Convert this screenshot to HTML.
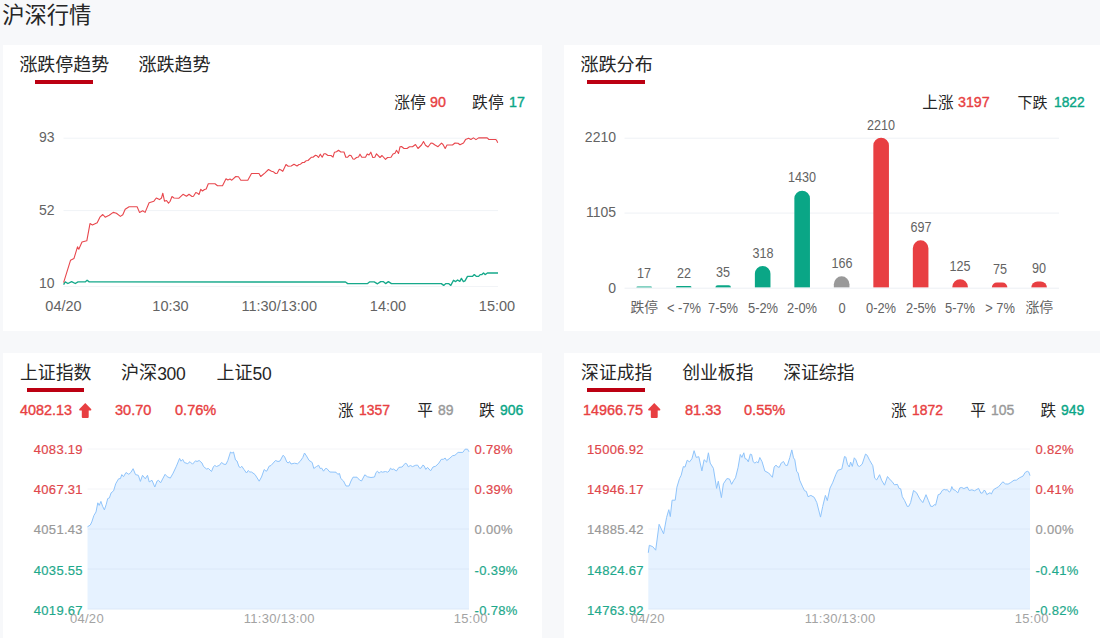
<!DOCTYPE html>
<html lang="zh-CN"><head><meta charset="utf-8"><title>沪深行情</title>
<style>
html,body{margin:0;padding:0}
body{width:1100px;height:638px;overflow:hidden;background:#f7f8fa;position:relative;font-family:"Liberation Sans",sans-serif;color:#333}
h1{margin:0;font-size:22px;font-weight:normal}
.card{position:absolute;width:539px;height:286px;background:#fff;overflow:hidden}
.zh{position:absolute;display:block;white-space:nowrap;overflow:visible;font-family:"Liberation Sans","Noto Sans CJK SC",sans-serif;font-weight:normal;color:#262626}
.t{position:absolute;line-height:20px;height:20px;white-space:nowrap}
.ul{position:absolute;width:57.5px;height:4px;background:#bc0012}
.ch{position:absolute;left:0;top:0}
.a{position:absolute}
.tab{position:static}
</style></head>
<body>
<h1><span class="zh" style="left:2.2px;top:5px;width:87.5px;height:21.5px;line-height:21.5px;font-size:22.3px">沪深行情</span></h1>
<section class="card" style="left:3px;top:45px"><div class="tab on"><span class="zh" style="left:16.4px;top:12.2px;width:88.5px;height:17.3px;line-height:17.3px;font-size:17.95px">涨跌停趋势</span><i class="ul" style="left:32px;top:35px"></i></div>
<div class="tab"><span class="zh" style="left:135.4px;top:12.2px;width:71px;height:17.3px;line-height:17.3px;font-size:18.05px">涨跌趋势</span></div>
<span class="zh" style="left:391.2px;top:51.3px;width:30.4px;height:13.3px;line-height:13.3px;font-size:15.8px">涨停</span>
<span class="t" style="top:47.1px;font-size:15px;color:#e83f42;-webkit-text-stroke:0.4px;transform:scaleX(0.95);transform-origin:0 50%;left:427.2px;">90</span>
<span class="zh" style="left:469.1px;top:51.3px;width:30.3px;height:13.3px;line-height:13.3px;font-size:15.8px">跌停</span>
<span class="t" style="top:47.1px;font-size:15px;color:#0aa686;-webkit-text-stroke:0.4px;transform:scaleX(0.95);transform-origin:0 50%;left:505.6px;">17</span>
<svg class="ch" width="539" height="286" viewBox="3 45 539 286"><line x1="63.5" x2="498" y1="138.2" y2="138.2" stroke="#f0f3f7" stroke-width="1"/><line x1="63.5" x2="498" y1="210.6" y2="210.6" stroke="#f0f3f7" stroke-width="1"/><line x1="63.5" x2="498" y1="286.5" y2="286.5" stroke="#f2f4f7" stroke-width="1"/><path d="M63.6 284.6 L65.2 281.9 L67.9 283.5 L71.6 281.6 L75.3 283.5 L78.0 281.9 L85.2 281.9 L87.1 280.3 L89.2 281.9 L345.5 282.0 L347.7 283.6 L367.6 283.6 L369.8 281.8 L374.2 281.8 L377.5 283.8 L380.7 281.6 L383.2 281.6 L385.6 283.6 L388.4 281.6 L391.4 283.6 L441.3 283.6 L443.7 285.4 L445.9 283.6 L448.6 283.6 L450.8 285.4 L453.5 280.3 L455.7 281.6 L457.6 280.0 L459.8 281.3 L461.4 278.4 L463.4 281.6 L465.0 280.8 L467.5 276.4 L472.4 276.4 L474.3 274.6 L476.5 276.4 L478.6 276.4 L480.2 274.6 L481.9 274.6 L483.5 273.0 L485.1 274.6 L487.4 273.0 L498.0 273.0" fill="none" stroke="#16a98b" stroke-width="1.35" stroke-linejoin="round"/><path d="M63.6 282.7 L70.5 260.3 L74.0 258.4 L77.5 246.8 L78.8 249.2 L82.0 242.0 L86.8 240.8 L90.0 223.6 L92.4 224.9 L97.2 222.8 L99.9 217.2 L102.8 214.5 L105.2 217.2 L109.2 215.3 L113.2 212.4 L116.4 213.2 L120.4 216.4 L122.8 214.8 L125.2 209.2 L129.1 206.8 L137.1 206.8 L139.5 212.4 L142.7 210.8 L145.1 212.4 L149.1 202.8 L153.9 201.2 L156.3 198.0 L159.5 199.6 L161.5 198.0 L162.8 193.2 L164.5 201.2 L166.5 200.5 L168.5 203.2 L170.0 201.5 L172.0 196.5 L174.0 198.0 L179.0 198.2 L183.0 194.3 L186.5 196.2 L189.0 194.3 L192.0 196.5 L193.5 196.2 L195.8 192.5 L197.5 193.2 L199.0 194.5 L200.8 189.3 L202.5 191.0 L204.5 189.5 L206.2 189.0 L208.3 183.8 L215.0 183.8 L217.5 185.8 L222.5 185.8 L226.0 178.8 L227.8 180.0 L230.0 179.0 L231.8 180.2 L235.8 176.5 L238.5 176.8 L240.8 180.3 L247.8 180.3 L251.5 173.5 L259.0 173.5 L260.7 176.5 L265.0 172.8 L268.5 169.5 L271.5 171.2 L273.5 171.8 L275.5 173.5 L277.2 173.2 L279.3 169.3 L281.0 170.0 L282.8 171.3 L286.0 164.5 L288.2 166.2 L291.2 166.0 L294.0 164.2 L297.0 166.0 L299.0 164.5 L300.5 164.2 L302.5 162.5 L304.2 162.5 L306.0 160.8 L308.0 160.5 L311.5 157.2 L313.0 157.2 L315.5 155.2 L317.0 155.8 L318.5 157.5 L320.3 154.2 L322.2 157.2 L324.0 153.8 L325.5 153.8 L328.0 155.5 L331.0 155.5 L333.0 157.2 L334.5 152.2 L336.5 151.8 L338.5 150.2 L340.8 152.0 L344.0 152.0 L345.8 157.3 L347.5 157.3 L349.5 155.2 L351.0 155.5 L353.0 159.0 L354.5 159.2 L356.5 157.5 L358.5 157.0 L360.0 154.2 L361.8 157.3 L365.5 157.3 L367.2 154.0 L369.0 155.0 L370.8 152.2 L372.8 157.5 L374.8 157.2 L376.5 153.8 L380.0 157.5 L382.0 155.5 L385.5 159.3 L387.5 157.5 L391.0 157.3 L393.0 154.0 L395.0 153.2 L396.5 150.3 L398.5 153.5 L400.0 146.8 L401.5 146.5 L404.0 148.5 L407.0 148.5 L409.5 146.7 L412.5 146.7 L415.5 144.5 L418.0 148.5 L421.5 145.0 L423.5 141.5 L425.5 145.2 L428.0 147.0 L431.0 143.0 L432.5 143.2 L435.0 145.0 L438.0 146.7 L441.5 143.2 L443.0 144.5 L445.2 148.5 L447.0 145.0 L452.5 145.0 L455.0 143.0 L458.0 143.2 L460.0 144.8 L463.5 143.0 L465.5 139.6 L468.6 138.2 L470.9 139.5 L473.4 137.9 L476.0 139.6 L478.6 137.9 L487.2 137.9 L488.9 139.5 L495.9 139.5 L496.9 140.9 L497.7 142.8" fill="none" stroke="#e8474d" stroke-width="1.1" stroke-linejoin="round"/></svg>
<span class="t" style="top:81.7px;font-size:14px;color:#636363;left:-148.4px;width:200px;text-align:right;">93</span>
<span class="t" style="top:154.5px;font-size:14px;color:#636363;left:-148.4px;width:200px;text-align:right;">52</span>
<span class="t" style="top:228.4px;font-size:14px;color:#636363;left:-148.4px;width:200px;text-align:right;">10</span>
<span class="t" style="top:250.5px;font-size:14.5px;color:#636363;left:-39.5px;width:200px;text-align:center;">04/20</span>
<span class="t" style="top:250.5px;font-size:14.5px;color:#636363;left:67.5px;width:200px;text-align:center;">10:30</span>
<span class="t" style="top:250.5px;font-size:14.5px;color:#636363;left:176.2px;width:200px;text-align:center;">11:30/13:00</span>
<span class="t" style="top:250.5px;font-size:14.5px;color:#636363;left:285px;width:200px;text-align:center;">14:00</span>
<span class="t" style="top:250.5px;font-size:14.5px;color:#636363;left:394px;width:200px;text-align:center;">15:00</span></section>
<section class="card" style="left:564px;top:45px"><div class="tab on"><span class="zh" style="left:16.4px;top:12.2px;width:71px;height:17.3px;line-height:17.3px;font-size:18.1px">涨跌分布</span><i class="ul" style="left:23.299999999999955px;top:35px"></i></div>
<span class="zh" style="left:358.3px;top:51.7px;width:30px;height:12.7px;line-height:12.7px;font-size:15.6px">上涨</span>
<span class="t" style="top:47.1px;font-size:15px;color:#e83f42;-webkit-text-stroke:0.4px;transform:scaleX(0.95);transform-origin:0 50%;left:394.2px;">3197</span>
<span class="zh" style="left:453.4px;top:51.7px;width:28.7px;height:12.7px;line-height:12.7px;font-size:15px">下跌</span>
<span class="t" style="top:47.1px;font-size:15px;color:#0aa686;-webkit-text-stroke:0.4px;transform:scaleX(0.92);transform-origin:0 50%;left:489.8px;">1822</span>
<svg class="ch" width="539" height="286" viewBox="564 45 539 286"><line x1="624.5" x2="1059" y1="138.2" y2="138.2" stroke="#eef1f5" stroke-width="1"/><line x1="624.5" x2="1059" y1="213.1" y2="213.1" stroke="#eef1f5" stroke-width="1"/><path d="M636.40 287.6 L636.40 287.60 A1.15 1.15 0 0 1 637.55 286.45 L650.85 286.45 A1.15 1.15 0 0 1 652.00 287.60 L652.00 287.6 Z" fill="#0aa686"/><path d="M675.89 287.6 L675.89 287.60 A1.49 1.49 0 0 1 677.38 286.11 L690.00 286.11 A1.49 1.49 0 0 1 691.49 287.60 L691.49 287.6 Z" fill="#0aa686"/><path d="M715.38 287.6 L715.38 287.60 A2.37 2.37 0 0 1 717.75 285.23 L728.61 285.23 A2.37 2.37 0 0 1 730.98 287.60 L730.98 287.6 Z" fill="#0aa686"/><path d="M754.87 287.6 L754.87 273.85 A7.80 7.80 0 0 1 762.67 266.05 L762.67 266.05 A7.80 7.80 0 0 1 770.47 273.85 L770.47 287.6 Z" fill="#0aa686"/><path d="M794.36 287.6 L794.36 198.47 A7.80 7.80 0 0 1 802.16 190.67 L802.16 190.67 A7.80 7.80 0 0 1 809.96 198.47 L809.96 287.6 Z" fill="#0aa686"/><path d="M833.85 287.6 L833.85 284.15 A7.80 7.80 0 0 1 841.65 276.35 L841.65 276.35 A7.80 7.80 0 0 1 849.45 284.15 L849.45 287.6 Z" fill="#999"/><path d="M873.34 287.6 L873.34 145.60 A7.80 7.80 0 0 1 881.14 137.80 L881.14 137.80 A7.80 7.80 0 0 1 888.94 145.60 L888.94 287.6 Z" fill="#e83f42"/><path d="M912.83 287.6 L912.83 248.16 A7.80 7.80 0 0 1 920.63 240.36 L920.63 240.36 A7.80 7.80 0 0 1 928.43 248.16 L928.43 287.6 Z" fill="#e83f42"/><path d="M952.32 287.6 L952.32 286.93 A7.80 7.80 0 0 1 960.12 279.13 L960.12 279.13 A7.80 7.80 0 0 1 967.92 286.93 L967.92 287.6 Z" fill="#e83f42"/><path d="M991.81 287.6 L991.81 287.60 A5.08 5.08 0 0 1 996.89 282.52 L1002.33 282.52 A5.08 5.08 0 0 1 1007.41 287.60 L1007.41 287.6 Z" fill="#e83f42"/><path d="M1031.30 287.6 L1031.30 287.60 A6.10 6.10 0 0 1 1037.40 281.50 L1040.80 281.50 A6.10 6.10 0 0 1 1046.90 287.60 L1046.90 287.6 Z" fill="#e83f42"/><line x1="624.5" x2="1059" y1="288.2" y2="288.2" stroke="#eceff4" stroke-width="1"/></svg>
<span class="t" style="top:82.2px;font-size:14px;color:#636363;left:-148px;width:200px;text-align:right;">2210</span>
<span class="t" style="top:157.2px;font-size:14px;color:#636363;left:-148px;width:200px;text-align:right;">1105</span>
<span class="t" style="top:232.5px;font-size:14px;color:#636363;left:-148px;width:200px;text-align:right;">0</span>
<span class="t" style="top:218.15px;font-size:14px;color:#636363;left:-19.8px;width:200px;text-align:center;transform:scaleX(.9);">17</span>
<span class="t" style="top:217.81px;font-size:14px;color:#636363;left:19.69px;width:200px;text-align:center;transform:scaleX(.9);">22</span>
<span class="t" style="top:216.93px;font-size:14px;color:#636363;left:59.18px;width:200px;text-align:center;transform:scaleX(.9);">35</span>
<span class="t" style="top:197.75px;font-size:14px;color:#636363;left:98.67px;width:200px;text-align:center;transform:scaleX(.9);">318</span>
<span class="t" style="top:122.37px;font-size:14px;color:#636363;left:138.16px;width:200px;text-align:center;transform:scaleX(.9);">1430</span>
<span class="t" style="top:208.05px;font-size:14px;color:#636363;left:177.65px;width:200px;text-align:center;transform:scaleX(.9);">166</span>
<span class="t" style="top:69.5px;font-size:14px;color:#636363;left:217.14px;width:200px;text-align:center;transform:scaleX(.9);">2210</span>
<span class="t" style="top:172.06px;font-size:14px;color:#636363;left:256.63px;width:200px;text-align:center;transform:scaleX(.9);">697</span>
<span class="t" style="top:210.83px;font-size:14px;color:#636363;left:296.12px;width:200px;text-align:center;transform:scaleX(.9);">125</span>
<span class="t" style="top:214.22px;font-size:14px;color:#636363;left:335.61px;width:200px;text-align:center;transform:scaleX(.9);">75</span>
<span class="t" style="top:213.2px;font-size:14px;color:#636363;left:375.1px;width:200px;text-align:center;transform:scaleX(.9);">90</span>
<span class="t" style="top:252.8px;font-size:14px;color:#636363;left:19.69px;width:200px;text-align:center;transform:scaleX(.92);">&lt; -7%</span>
<span class="t" style="top:252.8px;font-size:14px;color:#636363;left:59.18px;width:200px;text-align:center;transform:scaleX(.92);">7-5%</span>
<span class="t" style="top:252.8px;font-size:14px;color:#636363;left:98.67px;width:200px;text-align:center;transform:scaleX(.92);">5-2%</span>
<span class="t" style="top:252.8px;font-size:14px;color:#636363;left:138.16px;width:200px;text-align:center;transform:scaleX(.92);">2-0%</span>
<span class="t" style="top:252.8px;font-size:14px;color:#636363;left:177.65px;width:200px;text-align:center;transform:scaleX(.92);">0</span>
<span class="t" style="top:252.8px;font-size:14px;color:#636363;left:217.14px;width:200px;text-align:center;transform:scaleX(.92);">0-2%</span>
<span class="t" style="top:252.8px;font-size:14px;color:#636363;left:256.63px;width:200px;text-align:center;transform:scaleX(.92);">2-5%</span>
<span class="t" style="top:252.8px;font-size:14px;color:#636363;left:296.12px;width:200px;text-align:center;transform:scaleX(.92);">5-7%</span>
<span class="t" style="top:252.8px;font-size:14px;color:#636363;left:335.61px;width:200px;text-align:center;transform:scaleX(.92);">&gt; 7%</span>
<span class="zh" style="left:66.5px;top:256.8px;width:26.4px;height:11.2px;line-height:11.2px;font-size:13.8px;color:#636363">跌停</span>
<span class="zh" style="left:461.5px;top:256.8px;width:26.6px;height:11.2px;line-height:11.2px;font-size:13.85px;color:#636363">涨停</span></section>
<section class="card" style="left:3px;top:353px"><div class="tab on"><span class="zh" style="left:17px;top:12.3px;width:70px;height:17.3px;line-height:17.3px;font-size:17.85px">上证指数</span><i class="ul" style="left:23.5px;top:35px"></i></div>
<div class="tab"><span class="zh" style="left:117.9px;top:12.3px;width:34.8px;height:17.3px;line-height:17.3px;font-size:18.1px">沪深</span><span class="t" style="top:11px;font-size:17.5px;color:#262626;letter-spacing:-0.3px;left:154.2px;">300</span></div>
<div class="tab"><span class="zh" style="left:213.5px;top:12.3px;width:34.8px;height:17.3px;line-height:17.3px;font-size:18.1px">上证</span><span class="t" style="top:11px;font-size:17.5px;color:#262626;letter-spacing:-0.3px;left:249.6px;">50</span></div>
<span class="t" style="top:47.2px;font-size:15px;color:#e83f42;-webkit-text-stroke:0.4px;transform:scaleX(0.96);transform-origin:0 50%;left:17.1px;">4082.13</span>
<svg class="a" style="left:76.2px;top:49.9px" width="12.5" height="15" viewBox="0 0 12.5 15"><path fill="#e83f42" d="M6.25 0.1 L12.1 6 Q12.7 6.9 11.7 7.5 L9.7 7.5 L9.7 14 Q9.7 15 8.7 15 L3.8 15 Q2.8 15 2.8 14 L2.8 7.5 L0.8 7.5 Q-0.2 6.9 0.4 6 Z"/></svg>
<span class="t" style="top:47.2px;font-size:15px;color:#e83f42;-webkit-text-stroke:0.4px;transform:scaleX(0.97);transform-origin:0 50%;left:112.2px;">30.70</span>
<span class="t" style="top:47.2px;font-size:15px;color:#e83f42;-webkit-text-stroke:0.4px;transform:scaleX(0.97);transform-origin:0 50%;left:171.6px;">0.76%</span>
<span class="zh" style="left:334.9px;top:51.9px;width:14.6px;height:12.2px;line-height:12.2px;font-size:15.6px">涨</span>
<span class="t" style="top:47.2px;font-size:15px;color:#e83f42;-webkit-text-stroke:0.4px;transform:scaleX(0.93);transform-origin:0 50%;left:356.4px;">1357</span>
<span class="zh" style="left:414.2px;top:51.9px;width:14px;height:12.2px;line-height:12.2px;font-size:15.6px">平</span>
<span class="t" style="top:47.2px;font-size:15px;color:#999;-webkit-text-stroke:0.4px;transform:scaleX(0.93);transform-origin:0 50%;left:434.6px;">89</span>
<span class="zh" style="left:476.1px;top:51.9px;width:14.8px;height:12.2px;line-height:12.2px;font-size:15.8px">跌</span>
<span class="t" style="top:47.2px;font-size:15px;color:#0aa686;-webkit-text-stroke:0.4px;transform:scaleX(0.93);transform-origin:0 50%;left:496.6px;">906</span>
<svg class="ch" width="539" height="286" viewBox="3 353 539 286"><line x1="87.5" x2="469" y1="449" y2="449" stroke="#f4f5f8" stroke-width="1"/><line x1="87.5" x2="469" y1="489" y2="489" stroke="#f4f5f8" stroke-width="1"/><line x1="87.5" x2="469" y1="529" y2="529" stroke="#f4f5f8" stroke-width="1"/><line x1="87.5" x2="469" y1="569" y2="569" stroke="#f4f5f8" stroke-width="1"/><line x1="87.5" x2="469" y1="609" y2="609" stroke="#f4f5f8" stroke-width="1"/><path d="M87.5 526.8 L90.3 525.0 L91.8 521.9 L93.9 515.5 L96.0 512.0 L97.8 502.8 L99.2 505.4 L100.9 501.4 L102.6 506.3 L104.4 509.9 L106.3 504.2 L107.7 498.6 L109.4 497.9 L111.1 492.9 L113.6 490.8 L115.7 483.8 L118.6 478.8 L120.4 478.6 L121.8 474.6 L123.5 476.7 L126.0 472.5 L128.8 474.3 L130.8 472.5 L133.1 468.7 L135.5 474.6 L138.3 475.3 L140.4 481.4 L142.5 475.3 L145.3 478.8 L147.5 475.3 L149.2 481.9 L152.0 480.3 L154.8 487.0 L157.1 481.0 L158.5 480.3 L160.6 482.8 L165.1 474.3 L167.2 476.7 L170.3 478.1 L173.1 473.2 L176.4 466.2 L179.6 458.4 L181.0 461.2 L182.7 459.4 L184.4 462.6 L187.7 463.6 L190.0 461.7 L192.5 464.2 L195.5 460.8 L197.0 461.5 L199.2 460.5 L202.0 463.0 L203.5 466.5 L206.5 469.0 L208.5 468.5 L211.5 471.5 L213.5 466.5 L214.8 465.5 L216.5 466.5 L219.5 465.3 L221.5 462.5 L224.0 464.3 L226.0 464.3 L227.8 460.5 L230.5 452.0 L232.0 453.2 L233.5 452.0 L235.5 460.0 L237.0 461.0 L239.0 466.8 L240.5 467.5 L241.8 466.3 L244.0 469.5 L246.5 473.0 L248.2 470.5 L249.8 472.0 L251.5 472.0 L255.0 474.5 L259.2 481.2 L261.5 477.0 L264.2 469.5 L266.0 471.2 L267.0 470.8 L269.0 466.3 L271.0 465.5 L275.5 460.5 L278.0 461.5 L280.0 461.0 L283.0 455.3 L284.5 456.5 L286.8 462.0 L288.2 463.0 L289.5 461.5 L291.0 464.0 L294.5 463.2 L297.5 463.8 L300.0 461.5 L302.8 457.5 L304.5 453.0 L306.5 456.0 L309.0 460.3 L312.2 462.5 L313.8 468.5 L316.5 466.5 L318.7 465.3 L320.2 468.5 L321.8 468.2 L323.5 471.2 L325.5 468.5 L326.8 468.5 L329.8 472.0 L336.0 472.2 L337.8 474.3 L339.5 473.5 L340.8 478.5 L343.5 481.0 L346.0 486.0 L349.0 486.0 L351.0 481.0 L353.0 477.2 L357.0 477.2 L359.5 480.0 L361.5 481.0 L364.8 474.8 L367.5 476.8 L371.0 477.5 L374.5 477.0 L376.0 472.5 L377.5 471.2 L379.2 473.2 L380.8 471.5 L382.5 472.2 L385.5 471.5 L387.5 472.2 L389.0 471.2 L390.5 468.2 L392.0 469.5 L393.5 469.0 L396.4 471.0 L398.9 467.4 L402.1 467.0 L405.2 463.3 L406.6 463.7 L408.3 466.8 L410.3 465.5 L412.6 466.6 L415.8 465.2 L417.7 465.2 L419.7 468.4 L420.9 468.2 L422.8 465.2 L424.0 465.7 L425.8 469.4 L427.5 467.4 L430.6 470.8 L433.0 467.0 L435.7 466.2 L438.9 463.1 L441.2 459.4 L443.6 459.2 L445.1 458.0 L446.7 460.5 L449.1 458.8 L452.6 455.7 L454.9 455.3 L458.1 452.4 L462.8 452.4 L465.1 449.2 L467.5 449.2 L469.0 451.8 L469 609.4 L87.5 609.4 Z" fill="#409eff" fill-opacity="0.13"/><path d="M87.5 526.8 L90.3 525.0 L91.8 521.9 L93.9 515.5 L96.0 512.0 L97.8 502.8 L99.2 505.4 L100.9 501.4 L102.6 506.3 L104.4 509.9 L106.3 504.2 L107.7 498.6 L109.4 497.9 L111.1 492.9 L113.6 490.8 L115.7 483.8 L118.6 478.8 L120.4 478.6 L121.8 474.6 L123.5 476.7 L126.0 472.5 L128.8 474.3 L130.8 472.5 L133.1 468.7 L135.5 474.6 L138.3 475.3 L140.4 481.4 L142.5 475.3 L145.3 478.8 L147.5 475.3 L149.2 481.9 L152.0 480.3 L154.8 487.0 L157.1 481.0 L158.5 480.3 L160.6 482.8 L165.1 474.3 L167.2 476.7 L170.3 478.1 L173.1 473.2 L176.4 466.2 L179.6 458.4 L181.0 461.2 L182.7 459.4 L184.4 462.6 L187.7 463.6 L190.0 461.7 L192.5 464.2 L195.5 460.8 L197.0 461.5 L199.2 460.5 L202.0 463.0 L203.5 466.5 L206.5 469.0 L208.5 468.5 L211.5 471.5 L213.5 466.5 L214.8 465.5 L216.5 466.5 L219.5 465.3 L221.5 462.5 L224.0 464.3 L226.0 464.3 L227.8 460.5 L230.5 452.0 L232.0 453.2 L233.5 452.0 L235.5 460.0 L237.0 461.0 L239.0 466.8 L240.5 467.5 L241.8 466.3 L244.0 469.5 L246.5 473.0 L248.2 470.5 L249.8 472.0 L251.5 472.0 L255.0 474.5 L259.2 481.2 L261.5 477.0 L264.2 469.5 L266.0 471.2 L267.0 470.8 L269.0 466.3 L271.0 465.5 L275.5 460.5 L278.0 461.5 L280.0 461.0 L283.0 455.3 L284.5 456.5 L286.8 462.0 L288.2 463.0 L289.5 461.5 L291.0 464.0 L294.5 463.2 L297.5 463.8 L300.0 461.5 L302.8 457.5 L304.5 453.0 L306.5 456.0 L309.0 460.3 L312.2 462.5 L313.8 468.5 L316.5 466.5 L318.7 465.3 L320.2 468.5 L321.8 468.2 L323.5 471.2 L325.5 468.5 L326.8 468.5 L329.8 472.0 L336.0 472.2 L337.8 474.3 L339.5 473.5 L340.8 478.5 L343.5 481.0 L346.0 486.0 L349.0 486.0 L351.0 481.0 L353.0 477.2 L357.0 477.2 L359.5 480.0 L361.5 481.0 L364.8 474.8 L367.5 476.8 L371.0 477.5 L374.5 477.0 L376.0 472.5 L377.5 471.2 L379.2 473.2 L380.8 471.5 L382.5 472.2 L385.5 471.5 L387.5 472.2 L389.0 471.2 L390.5 468.2 L392.0 469.5 L393.5 469.0 L396.4 471.0 L398.9 467.4 L402.1 467.0 L405.2 463.3 L406.6 463.7 L408.3 466.8 L410.3 465.5 L412.6 466.6 L415.8 465.2 L417.7 465.2 L419.7 468.4 L420.9 468.2 L422.8 465.2 L424.0 465.7 L425.8 469.4 L427.5 467.4 L430.6 470.8 L433.0 467.0 L435.7 466.2 L438.9 463.1 L441.2 459.4 L443.6 459.2 L445.1 458.0 L446.7 460.5 L449.1 458.8 L452.6 455.7 L454.9 455.3 L458.1 452.4 L462.8 452.4 L465.1 449.2 L467.5 449.2 L469.0 451.8" fill="none" stroke="#8fc4fb" stroke-width="1" stroke-linejoin="round"/></svg>
<span class="t" style="top:87px;font-size:13px;color:#e0474c;letter-spacing:0.3px;left:-120.1px;width:200px;text-align:right;-webkit-text-stroke:0.2px;">4083.19</span>
<span class="t" style="top:127.2px;font-size:13px;color:#e0474c;letter-spacing:0.3px;left:-120.1px;width:200px;text-align:right;-webkit-text-stroke:0.2px;">4067.31</span>
<span class="t" style="top:167.4px;font-size:13px;color:#999;letter-spacing:0.3px;left:-120.1px;width:200px;text-align:right;-webkit-text-stroke:0.2px;">4051.43</span>
<span class="t" style="top:207.6px;font-size:13px;color:#1fa98c;letter-spacing:0.3px;left:-120.1px;width:200px;text-align:right;-webkit-text-stroke:0.2px;">4035.55</span>
<span class="t" style="top:247.6px;font-size:13px;color:#1fa98c;letter-spacing:0.3px;left:-120.1px;width:200px;text-align:right;-webkit-text-stroke:0.2px;">4019.67</span>
<span class="t" style="top:87px;font-size:13px;color:#e0474c;letter-spacing:0.3px;left:471.6px;-webkit-text-stroke:0.2px;">0.78%</span>
<span class="t" style="top:127.2px;font-size:13px;color:#e0474c;letter-spacing:0.3px;left:471.6px;-webkit-text-stroke:0.2px;">0.39%</span>
<span class="t" style="top:167.4px;font-size:13px;color:#999;letter-spacing:0.3px;left:471.6px;-webkit-text-stroke:0.2px;">0.00%</span>
<span class="t" style="top:207.6px;font-size:13px;color:#1fa98c;letter-spacing:0.3px;left:471.6px;-webkit-text-stroke:0.2px;">-0.39%</span>
<span class="t" style="top:247.6px;font-size:13px;color:#1fa98c;letter-spacing:0.3px;left:471.6px;-webkit-text-stroke:0.2px;">-0.78%</span>
<span class="t" style="top:256px;font-size:13px;color:#a3a3a3;letter-spacing:0.3px;left:-16.1px;width:200px;text-align:center;">04/20</span>
<span class="t" style="top:256px;font-size:13px;color:#a3a3a3;letter-spacing:0.3px;left:176.25px;width:200px;text-align:center;">11:30/13:00</span>
<span class="t" style="top:256px;font-size:13px;color:#a3a3a3;letter-spacing:0.3px;left:367.8px;width:200px;text-align:center;">15:00</span></section>
<section class="card" style="left:564px;top:353px"><div class="tab on"><span class="zh" style="left:17.1px;top:12.3px;width:69.8px;height:17.3px;line-height:17.3px;font-size:17.8px">深证成指</span><i class="ul" style="left:23.4px;top:35px"></i></div>
<div class="tab"><span class="zh" style="left:118.3px;top:12.3px;width:69.8px;height:17.3px;line-height:17.3px;font-size:17.8px">创业板指</span></div>
<div class="tab"><span class="zh" style="left:219.3px;top:12.3px;width:69.8px;height:17.3px;line-height:17.3px;font-size:17.8px">深证综指</span></div>
<span class="t" style="top:47.2px;font-size:15px;color:#e83f42;-webkit-text-stroke:0.4px;transform:scaleX(0.96);transform-origin:0 50%;left:18.7px;">14966.75</span>
<svg class="a" style="left:84.4px;top:49.9px" width="12.5" height="15" viewBox="0 0 12.5 15"><path fill="#e83f42" d="M6.25 0.1 L12.1 6 Q12.7 6.9 11.7 7.5 L9.7 7.5 L9.7 14 Q9.7 15 8.7 15 L3.8 15 Q2.8 15 2.8 14 L2.8 7.5 L0.8 7.5 Q-0.2 6.9 0.4 6 Z"/></svg>
<span class="t" style="top:47.2px;font-size:15px;color:#e83f42;-webkit-text-stroke:0.4px;transform:scaleX(0.97);transform-origin:0 50%;left:120.8px;">81.33</span>
<span class="t" style="top:47.2px;font-size:15px;color:#e83f42;-webkit-text-stroke:0.4px;transform:scaleX(0.97);transform-origin:0 50%;left:179.7px;">0.55%</span>
<span class="zh" style="left:326.9px;top:51.9px;width:14.6px;height:12.2px;line-height:12.2px;font-size:15.6px">涨</span>
<span class="t" style="top:47.2px;font-size:15px;color:#e83f42;-webkit-text-stroke:0.4px;transform:scaleX(0.93);transform-origin:0 50%;left:348.4px;">1872</span>
<span class="zh" style="left:406.2px;top:51.9px;width:14px;height:12.2px;line-height:12.2px;font-size:15.6px">平</span>
<span class="t" style="top:47.2px;font-size:15px;color:#999;-webkit-text-stroke:0.4px;transform:scaleX(0.93);transform-origin:0 50%;left:427.2px;">105</span>
<span class="zh" style="left:476.5px;top:51.9px;width:14.6px;height:12.2px;line-height:12.2px;font-size:15.6px">跌</span>
<span class="t" style="top:47.2px;font-size:15px;color:#0aa686;-webkit-text-stroke:0.4px;transform:scaleX(0.93);transform-origin:0 50%;left:496.6px;">949</span>
<svg class="ch" width="539" height="286" viewBox="564 353 539 286"><line x1="648.3" x2="1030" y1="449" y2="449" stroke="#f4f5f8" stroke-width="1"/><line x1="648.3" x2="1030" y1="489" y2="489" stroke="#f4f5f8" stroke-width="1"/><line x1="648.3" x2="1030" y1="529" y2="529" stroke="#f4f5f8" stroke-width="1"/><line x1="648.3" x2="1030" y1="569" y2="569" stroke="#f4f5f8" stroke-width="1"/><line x1="648.3" x2="1030" y1="609" y2="609" stroke="#f4f5f8" stroke-width="1"/><path d="M648.3 552.8 L649.3 545.3 L652.8 546.7 L655.7 550.2 L659.1 524.3 L663.6 533.8 L666.6 517.4 L668.8 509.7 L670.3 516.6 L672.1 500.2 L675.2 500.2 L676.9 487.2 L679.5 478.6 L681.2 475.2 L683.3 466.6 L685.0 467.1 L687.2 460.2 L689.5 461.9 L691.9 458.8 L694.1 450.7 L696.2 457.4 L698.8 456.7 L701.9 470.9 L704.1 459.7 L706.7 462.2 L708.4 452.8 L710.2 463.1 L713.4 468.3 L716.6 488.4 L718.3 481.2 L721.4 497.6 L723.4 483.8 L726.9 478.6 L729.5 479.0 L731.6 484.3 L733.8 480.3 L735.5 477.8 L738.1 467.4 L740.3 454.5 L741.9 457.4 L743.8 452.8 L745.0 458.6 L746.6 459.1 L748.3 461.8 L750.3 454.1 L751.6 454.5 L753.2 461.8 L754.9 463.1 L756.6 461.8 L758.2 462.8 L759.8 457.5 L762.1 461.8 L764.8 471.0 L768.7 473.0 L772.4 477.3 L774.2 467.0 L776.0 465.1 L777.7 467.0 L779.3 467.3 L781.2 463.1 L783.5 461.5 L785.6 465.4 L787.4 465.4 L789.8 457.5 L791.8 449.9 L793.5 457.8 L794.8 459.8 L796.6 471.2 L798.1 473.0 L799.7 480.2 L802.3 486.1 L804.5 490.7 L806.3 491.4 L808.0 496.7 L810.9 495.4 L814.2 497.3 L816.8 502.6 L820.5 517.1 L822.7 506.5 L825.4 495.4 L827.3 500.6 L830.0 488.1 L832.6 482.8 L835.9 474.3 L837.9 470.3 L841.8 469.0 L844.5 456.5 L845.8 457.1 L847.5 464.4 L849.3 467.0 L850.6 462.0 L852.3 466.4 L854.3 457.8 L855.9 459.8 L857.9 465.7 L859.6 466.4 L862.2 464.1 L865.5 454.1 L867.1 455.2 L869.7 460.4 L872.8 465.7 L874.7 478.2 L876.7 479.9 L879.6 474.7 L881.6 480.2 L884.5 485.2 L887.5 476.5 L890.2 479.9 L892.1 481.5 L894.4 484.8 L897.4 484.4 L899.1 488.4 L900.7 488.8 L902.3 496.7 L904.6 500.6 L907.3 506.5 L908.9 506.2 L910.6 502.6 L913.5 490.5 L916.5 492.7 L919.8 498.9 L922.8 502.6 L926.0 494.7 L928.4 500.6 L930.7 506.3 L933.0 506.3 L934.3 504.6 L935.6 505.2 L938.2 494.7 L940.2 494.0 L942.2 490.5 L944.2 489.4 L946.1 490.1 L947.1 489.4 L949.2 492.1 L950.5 491.2 L951.8 486.6 L953.2 489.5 L955.2 490.3 L957.8 492.9 L959.8 487.9 L961.7 487.5 L963.9 488.6 L967.3 487.0 L969.2 490.5 L971.9 489.8 L974.5 490.8 L978.6 488.4 L980.9 493.2 L982.5 493.0 L983.9 490.3 L985.2 490.8 L986.8 494.6 L990.0 492.7 L991.4 494.0 L993.5 489.7 L996.4 487.9 L998.5 486.8 L1002.8 481.8 L1005.4 483.9 L1008.1 484.1 L1010.8 482.5 L1014.0 480.2 L1016.3 480.2 L1019.3 477.9 L1023.0 476.1 L1025.2 472.4 L1027.3 471.3 L1028.7 471.9 L1030.0 475.6 L1030 609.4 L648.3 609.4 Z" fill="#409eff" fill-opacity="0.13"/><path d="M648.3 552.8 L649.3 545.3 L652.8 546.7 L655.7 550.2 L659.1 524.3 L663.6 533.8 L666.6 517.4 L668.8 509.7 L670.3 516.6 L672.1 500.2 L675.2 500.2 L676.9 487.2 L679.5 478.6 L681.2 475.2 L683.3 466.6 L685.0 467.1 L687.2 460.2 L689.5 461.9 L691.9 458.8 L694.1 450.7 L696.2 457.4 L698.8 456.7 L701.9 470.9 L704.1 459.7 L706.7 462.2 L708.4 452.8 L710.2 463.1 L713.4 468.3 L716.6 488.4 L718.3 481.2 L721.4 497.6 L723.4 483.8 L726.9 478.6 L729.5 479.0 L731.6 484.3 L733.8 480.3 L735.5 477.8 L738.1 467.4 L740.3 454.5 L741.9 457.4 L743.8 452.8 L745.0 458.6 L746.6 459.1 L748.3 461.8 L750.3 454.1 L751.6 454.5 L753.2 461.8 L754.9 463.1 L756.6 461.8 L758.2 462.8 L759.8 457.5 L762.1 461.8 L764.8 471.0 L768.7 473.0 L772.4 477.3 L774.2 467.0 L776.0 465.1 L777.7 467.0 L779.3 467.3 L781.2 463.1 L783.5 461.5 L785.6 465.4 L787.4 465.4 L789.8 457.5 L791.8 449.9 L793.5 457.8 L794.8 459.8 L796.6 471.2 L798.1 473.0 L799.7 480.2 L802.3 486.1 L804.5 490.7 L806.3 491.4 L808.0 496.7 L810.9 495.4 L814.2 497.3 L816.8 502.6 L820.5 517.1 L822.7 506.5 L825.4 495.4 L827.3 500.6 L830.0 488.1 L832.6 482.8 L835.9 474.3 L837.9 470.3 L841.8 469.0 L844.5 456.5 L845.8 457.1 L847.5 464.4 L849.3 467.0 L850.6 462.0 L852.3 466.4 L854.3 457.8 L855.9 459.8 L857.9 465.7 L859.6 466.4 L862.2 464.1 L865.5 454.1 L867.1 455.2 L869.7 460.4 L872.8 465.7 L874.7 478.2 L876.7 479.9 L879.6 474.7 L881.6 480.2 L884.5 485.2 L887.5 476.5 L890.2 479.9 L892.1 481.5 L894.4 484.8 L897.4 484.4 L899.1 488.4 L900.7 488.8 L902.3 496.7 L904.6 500.6 L907.3 506.5 L908.9 506.2 L910.6 502.6 L913.5 490.5 L916.5 492.7 L919.8 498.9 L922.8 502.6 L926.0 494.7 L928.4 500.6 L930.7 506.3 L933.0 506.3 L934.3 504.6 L935.6 505.2 L938.2 494.7 L940.2 494.0 L942.2 490.5 L944.2 489.4 L946.1 490.1 L947.1 489.4 L949.2 492.1 L950.5 491.2 L951.8 486.6 L953.2 489.5 L955.2 490.3 L957.8 492.9 L959.8 487.9 L961.7 487.5 L963.9 488.6 L967.3 487.0 L969.2 490.5 L971.9 489.8 L974.5 490.8 L978.6 488.4 L980.9 493.2 L982.5 493.0 L983.9 490.3 L985.2 490.8 L986.8 494.6 L990.0 492.7 L991.4 494.0 L993.5 489.7 L996.4 487.9 L998.5 486.8 L1002.8 481.8 L1005.4 483.9 L1008.1 484.1 L1010.8 482.5 L1014.0 480.2 L1016.3 480.2 L1019.3 477.9 L1023.0 476.1 L1025.2 472.4 L1027.3 471.3 L1028.7 471.9 L1030.0 475.6" fill="none" stroke="#8fc4fb" stroke-width="1" stroke-linejoin="round"/></svg>
<span class="t" style="top:87px;font-size:13px;color:#e0474c;letter-spacing:0.3px;left:-120.3px;width:200px;text-align:right;-webkit-text-stroke:0.2px;">15006.92</span>
<span class="t" style="top:127.2px;font-size:13px;color:#e0474c;letter-spacing:0.3px;left:-120.3px;width:200px;text-align:right;-webkit-text-stroke:0.2px;">14946.17</span>
<span class="t" style="top:167.4px;font-size:13px;color:#999;letter-spacing:0.3px;left:-120.3px;width:200px;text-align:right;-webkit-text-stroke:0.2px;">14885.42</span>
<span class="t" style="top:207.6px;font-size:13px;color:#1fa98c;letter-spacing:0.3px;left:-120.3px;width:200px;text-align:right;-webkit-text-stroke:0.2px;">14824.67</span>
<span class="t" style="top:247.6px;font-size:13px;color:#1fa98c;letter-spacing:0.3px;left:-120.3px;width:200px;text-align:right;-webkit-text-stroke:0.2px;">14763.92</span>
<span class="t" style="top:87px;font-size:13px;color:#e0474c;letter-spacing:0.3px;left:471.6px;-webkit-text-stroke:0.2px;">0.82%</span>
<span class="t" style="top:127.2px;font-size:13px;color:#e0474c;letter-spacing:0.3px;left:471.6px;-webkit-text-stroke:0.2px;">0.41%</span>
<span class="t" style="top:167.4px;font-size:13px;color:#999;letter-spacing:0.3px;left:471.6px;-webkit-text-stroke:0.2px;">0.00%</span>
<span class="t" style="top:207.6px;font-size:13px;color:#1fa98c;letter-spacing:0.3px;left:471.6px;-webkit-text-stroke:0.2px;">-0.41%</span>
<span class="t" style="top:247.6px;font-size:13px;color:#1fa98c;letter-spacing:0.3px;left:471.6px;-webkit-text-stroke:0.2px;">-0.82%</span>
<span class="t" style="top:256px;font-size:13px;color:#a3a3a3;letter-spacing:0.3px;left:-16.3px;width:200px;text-align:center;">04/20</span>
<span class="t" style="top:256px;font-size:13px;color:#a3a3a3;letter-spacing:0.3px;left:176.15px;width:200px;text-align:center;">11:30/13:00</span>
<span class="t" style="top:256px;font-size:13px;color:#a3a3a3;letter-spacing:0.3px;left:367.8px;width:200px;text-align:center;">15:00</span></section>
</body></html>
